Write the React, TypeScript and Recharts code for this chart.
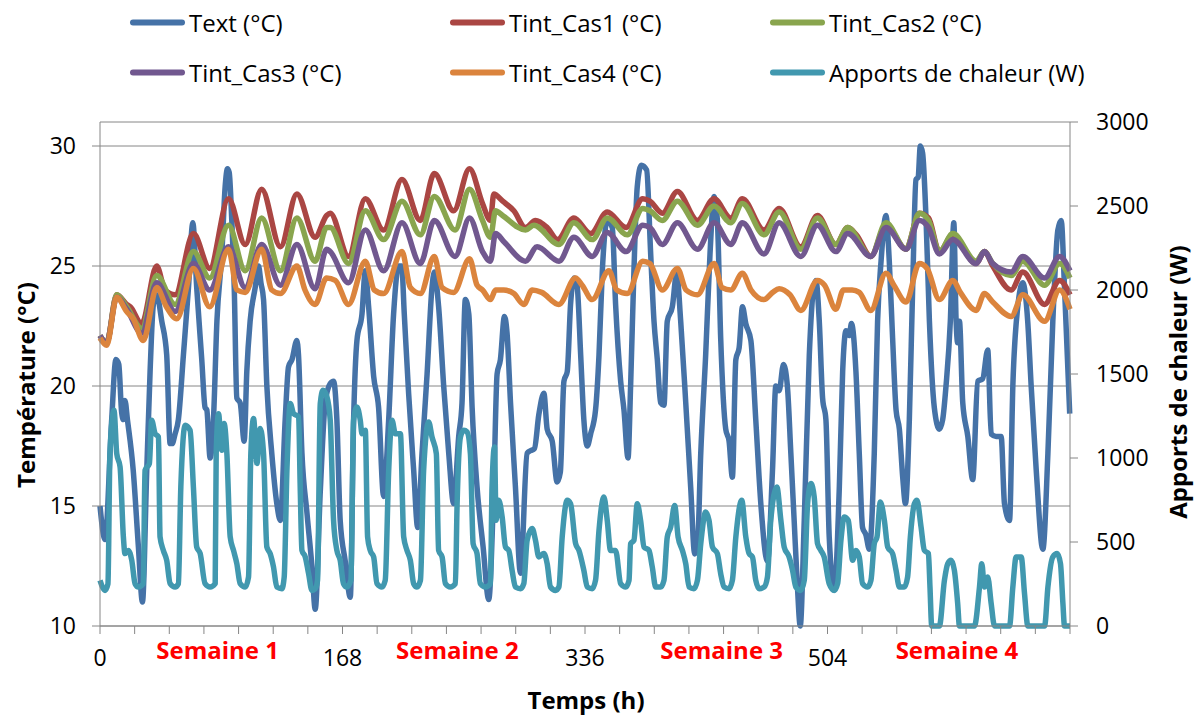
import { LineChart, Line, XAxis, YAxis, CartesianGrid, ReferenceDot } from "recharts";

type Pt = [number, number];

// axes
const hourTicks = [0, 24, 48, 72, 96, 120, 144, 168, 192, 216, 240, 264, 288, 312, 336, 360, 384, 408, 432, 456, 480, 504, 528, 552, 576, 600, 624, 648, 672];
const hourLabels = [0, 168, 336, 504];
const tempTicks = [10, 15, 20, 25, 30];
const powerTicks = [0, 500, 1000, 1500, 2000, 2500, 3000];
const weekNames = ["Semaine 1", "Semaine 2", "Semaine 3", "Semaine 4"];
const weekCenters = [81.5, 247.6, 430.7, 593.7];

// [hour, °C]
const text: Pt[] = [
  [0, 15.0], [3.5, 13.6], [8, 18.5], [11, 21.1], [13, 20.9], [15, 18.9], [16.2, 18.6], [17.3, 19.4], [19, 18.6], [23, 16.5],
  [26.6, 13.3], [29.4, 11.0], [32.4, 16.5], [34.7, 20.6], [37, 23.4], [39.3, 23.8], [42.8, 22.7], [46.2, 21.3], [48.6, 17.6], [50, 17.6],
  [52, 18.0], [54.3, 18.6], [57.8, 21.3], [61.3, 24.1], [64.3, 26.8], [67, 24.1], [70.5, 21.1], [72.8, 19.1], [74, 19.0], [76.3, 17.0],
  [78.6, 18.6], [81, 22.7], [84.4, 25.5], [86.7, 28.3], [88.3, 29.05], [89.5, 28.9], [91.3, 26.9], [93, 24.1], [94.8, 19.5], [97.1, 19.3],
  [99.9, 17.7], [101.7, 20.6], [104, 22.7], [107.5, 24.1], [109.8, 25.0], [111.5, 24.3], [113.3, 23.6], [115.6, 20.0], [119, 17.2], [122.5, 15.1],
  [124.9, 14.4], [128.3, 18.6], [130.6, 20.8], [133, 21.1], [136.4, 21.9], [137.5, 21.3], [139.9, 17.2], [143.4, 14.7], [146.8, 12.5], [149.1, 10.7],
  [152.6, 15.6], [156, 19.3], [159.5, 20.1], [161.8, 20.2], [164.1, 18.6], [166.4, 14.4], [169.9, 12.7], [173.4, 11.2], [175.7, 18.6], [178, 21.9],
  [181.5, 23.0], [183.8, 24.8], [186.1, 23.3], [189.6, 20.4], [193, 19.1], [196.5, 15.4], [200, 18.6], [203.4, 23.0], [206.9, 25.0], [209, 25.0],
  [210.8, 23.0], [213.8, 19.7], [217.3, 16.5], [220.1, 14.1], [223.1, 17.2], [226.6, 20.5], [230, 24.1], [231.6, 24.75], [234.6, 23.3], [238.1, 20.0],
  [241.6, 17.2], [245, 15.1], [248.5, 17.9], [250.8, 19.3], [253.1, 23.6], [255.5, 23.0], [257.8, 19.1], [261.2, 15.8], [265.4, 13.3], [269.3, 11.1],
  [272.8, 15.8], [275.1, 20.5], [277.4, 21.1], [280.2, 22.9], [282, 22.2], [284.4, 19.3], [287.8, 15.8], [291.3, 12.2], [295.9, 17.2], [298.2, 17.3],
  [301, 17.4], [304, 18.8], [307.5, 19.7], [309.8, 18.2], [313.3, 17.7], [316.7, 16.0], [318.9, 16.4], [321.4, 20.2], [323.7, 20.6], [326, 23.4],
  [328.5, 24.5], [330.5, 24.2], [333, 21.3], [335.2, 18.6], [337.6, 17.5], [339.9, 18.0], [343.3, 19.0], [345.7, 21.3], [348, 24.8], [351.4, 26.9],
  [354.9, 26.6], [357.2, 23.4], [360.7, 20.2], [363, 19.0], [365.8, 17.0], [367.6, 20.0], [369.9, 24.8], [372.2, 28.3], [375, 29.2], [378.7, 29.0],
  [381.5, 25.5], [383.8, 22.7], [386.1, 21.1], [388.4, 19.3], [390.7, 19.2], [393, 22.7], [396.5, 23.3], [399.5, 24.7], [402.3, 22.7], [405.8, 19.3],
  [409.2, 15.8], [412, 13.0], [413.9, 13.3], [416.2, 17.2], [419.6, 21.3], [422.6, 25.5], [425.4, 27.9], [427.7, 26.9], [430, 22.0], [433.5, 18.2],
  [435.8, 17.7], [438.1, 16.2], [440.5, 21.1], [442.8, 21.6], [445.1, 23.3], [447.4, 22.6], [450.9, 21.9], [454.3, 18.6], [457.8, 15.1], [462.4, 12.7],
  [465.9, 16.5], [468.2, 20.0], [470.5, 19.8], [473.5, 20.9], [476.2, 20.0], [478.6, 17.2], [480.9, 14.4], [483.2, 11.6], [485.1, 10.0], [487.9, 14.4],
  [491.4, 21.3], [494.4, 24.1], [496, 24.4], [498.3, 22.7], [500.6, 19.5], [502.9, 18.6], [505.2, 13.7], [508.7, 11.5], [512.2, 15.8], [514.5, 20.6],
  [516.8, 22.3], [519, 22.1], [520.6, 22.6], [523.7, 20.6], [526, 17.2], [528.3, 14.1], [530.6, 13.8], [533, 13.2], [536.4, 17.2], [538.7, 22.7],
  [541.1, 25.2], [544.5, 27.1], [546.8, 25.2], [549.1, 22.0], [551.5, 19.0], [553.8, 18.2], [556.1, 16.2], [558, 15.1], [560.7, 18.6], [563, 24.1],
  [565.3, 28.6], [566.8, 28.7], [568.3, 30.0], [569.9, 29.7], [572.3, 26.9], [574.6, 22.7], [578, 19.1], [581.5, 18.2], [583.8, 18.6], [586.1, 20.0],
  [589.1, 22.7], [591.5, 26.8], [593.1, 22.7], [594.2, 21.8], [595.4, 22.7], [597.7, 19.3], [601.2, 17.9], [604.6, 16.1], [608.1, 20.2], [611.5, 20.3],
  [615, 21.5], [617.4, 18.0], [620.8, 17.9], [624.3, 17.9], [626.6, 15.1], [630.1, 14.4], [632.4, 20.0], [635.8, 23.3], [639.3, 24.3], [642.7, 22.7],
  [645.1, 20.0], [648.6, 16.5], [653.2, 13.2], [656.7, 17.2], [660.1, 22.7], [663.6, 26.5], [665.9, 26.9], [668.2, 24.1], [671.8, 18.85],
];

const cas1: Pt[] = [
  [0, 22.1], [4.6, 21.8], [11.6, 23.8], [18.5, 23.4], [21, 23.3], [28.9, 22.6], [39.3, 25.0], [45, 24.0], [52, 23.8], [64.7, 26.35],
  [76, 24.9], [89, 27.8], [100.6, 25.9], [112, 28.2], [125, 25.8], [136.4, 28.0], [149, 26.2], [157, 27.1], [159.5, 27.2], [172.2, 25.4],
  [183.8, 27.8], [196.5, 26.5], [209.2, 28.6], [221.9, 26.9], [231.6, 28.85], [245, 27.3], [256, 29.05], [265, 27.6], [270.5, 26.9], [272.8, 28.0],
  [279, 27.7], [286.7, 27.3], [294.8, 26.6], [301.7, 26.9], [309.8, 26.6], [317, 26.1], [328.3, 27.0], [340, 26.35], [351.4, 27.25], [364.5, 26.6], [376, 27.8],
  [381, 27.7], [389.6, 27.2], [400, 28.1], [413.9, 26.9], [425.4, 27.8], [437, 27.0], [445, 27.8], [460, 26.5], [470.5, 27.4], [485.5, 25.8],
  [497, 27.1], [509.8, 25.9], [518, 26.6], [524, 26.3], [534, 25.4], [544.5, 26.7], [558.4, 25.7], [567.6, 27.2], [574, 27.0], [581.5, 25.6],
  [590.8, 26.3], [607, 25.1], [612.7, 25.6], [618.5, 25.0], [631.2, 24.0], [639.3, 24.75], [654.4, 23.4], [664.8, 24.4], [672, 23.8],
];

const cas2: Pt[] = [
  [0, 22.1], [4.6, 21.8], [11.6, 23.8], [18.5, 23.3], [28.9, 22.4], [39.3, 24.6], [52, 23.4], [64.7, 25.6], [76, 24.5], [89, 26.7],
  [100.6, 24.8], [112, 27.0], [125, 24.8], [136.4, 27.0], [149, 25.2], [157, 26.6], [159.5, 26.6], [172.2, 25.1], [183.8, 27.3], [196.5, 26.1],
  [209.2, 27.7], [221.9, 26.3], [231.6, 27.9], [246, 26.5], [256, 28.2], [265, 26.9], [270.5, 26.2], [274, 27.3], [279, 27.1], [294.8, 26.5],
  [300.5, 26.7], [317.9, 25.9], [328.3, 26.8], [341, 26.1], [351.4, 27.0], [365.3, 26.3], [376, 27.4], [381, 27.3], [389.6, 26.9], [400, 27.7],
  [413.9, 26.7], [425.4, 27.5], [437, 26.8], [445, 27.6], [460, 26.3], [470.5, 27.25], [485.5, 25.7], [497, 27.0], [509.8, 25.9], [518, 26.6],
  [534, 25.4], [544.5, 26.8], [558.4, 25.7], [567.6, 27.2], [574, 26.9], [581.5, 25.6], [590.8, 26.35], [607, 25.2], [612.7, 25.6], [618.5, 25.1],
  [631.2, 24.6], [639.3, 25.2], [654.4, 24.2], [664.8, 25.1], [672, 24.5],
];

const cas3: Pt[] = [
  [0, 22.1], [4.6, 21.8], [11.6, 23.7], [18.5, 23.2], [28.9, 22.2], [39.3, 24.3], [52, 23.1], [64.7, 25.1], [76, 24.0], [89, 25.8],
  [100.6, 24.1], [112, 25.9], [125, 24.2], [136.4, 25.9], [149, 24.05], [157, 25.7], [159.5, 25.6], [172.2, 24.3], [183.8, 26.5], [196.5, 24.8],
  [209.2, 26.8], [221.9, 25.1], [231.6, 26.9], [246, 25.4], [256, 27.0], [265, 25.6], [270.5, 25.2], [274, 26.35], [280, 26.0], [294.8, 25.2],
  [302.8, 25.8], [318, 25.2], [328.3, 26.2], [341, 25.4], [351.4, 26.4], [364.5, 25.6], [376, 26.7], [381, 26.6], [389.6, 25.9], [400, 26.8],
  [413.9, 25.7], [425.4, 26.8], [437, 25.9], [445, 26.8], [460, 25.5], [470.5, 26.8], [485.5, 25.4], [497, 26.7], [509.8, 25.6], [518, 26.35],
  [534, 25.4], [544.5, 26.6], [558.4, 25.7], [567.6, 26.9], [574, 26.6], [581.5, 25.5], [590.8, 26.1], [607, 25.1], [612.7, 25.6], [618.5, 25.1],
  [631.2, 24.75], [639.3, 25.4], [654.4, 24.5], [664.8, 25.4], [672, 24.8],
];

const cas4: Pt[] = [
  [0, 22.0], [4.6, 21.7], [11.6, 23.7], [18.5, 23.1], [23, 22.8], [30, 21.9], [39.3, 24.1], [46, 23.3], [53.2, 22.8], [64.7, 24.9],
  [76, 23.3], [89, 25.7], [95, 24.0], [100.6, 23.9], [112, 25.7], [119, 24.0], [125, 23.85], [136.4, 25.0], [142, 24.0], [149, 23.4],
  [157, 24.5], [163, 24.4], [172.2, 23.4], [183.8, 25.2], [190, 24.0], [196.5, 23.85], [209.2, 25.6], [215, 24.1], [221.9, 23.85], [231.6, 25.4],
  [237, 24.1], [245, 23.9], [256, 25.3], [261.2, 24.2], [265, 24.0], [270.5, 23.6], [274, 24.0], [279.7, 24.0], [286.7, 23.85], [293.6, 23.4],
  [299.4, 24.0], [306, 23.9], [317.9, 23.4], [329.4, 24.5], [334, 24.2], [341, 23.6], [352.6, 24.8], [358, 24.0], [365.3, 23.85], [376, 25.2],
  [381, 25.1], [389.6, 24.0], [400, 24.9], [406, 24.0], [413.9, 23.8], [425.4, 25.1], [431, 24.1], [437, 24.0], [445, 24.7], [451, 24.0],
  [460, 23.6], [466, 23.9], [470.5, 24.05], [478, 23.8], [485.5, 23.15], [497, 24.4], [502, 24.2], [509.8, 23.2], [515, 24.0], [521, 24.0],
  [526, 23.9], [534, 23.15], [544.5, 24.7], [550, 24.2], [558.4, 23.5], [567.6, 25.1], [573, 24.9], [581.5, 23.6], [590.8, 24.4], [596, 23.9],
  [607, 23.15], [612.7, 23.85], [618.5, 23.5], [631.2, 22.9], [639.3, 23.8], [654.4, 22.7], [664.8, 24.0], [672, 23.2],
];

// [hour, W]
const apports: Pt[] = [
  [0, 272], [3.5, 212], [5.5, 250], [6.9, 1026], [9.7, 1284], [11.6, 1026], [13.9, 947], [16.2, 530], [17.3, 431], [19.6, 450],
  [22, 391], [24.3, 252], [26.6, 232], [30, 252], [31.2, 927], [34.2, 967], [35.8, 1225], [38.2, 1145], [40.5, 1125], [41.6, 530],
  [43.9, 450], [46.2, 391], [48.6, 252], [52, 232], [54.3, 252], [56, 828], [59, 1195], [62.4, 1165], [64.7, 828], [67, 470],
  [69.4, 431], [72.8, 252], [76.3, 232], [79.8, 252], [80.5, 1026], [82.1, 1264], [84.4, 1046], [86, 1205], [87.9, 1026], [90.2, 530],
  [92.5, 450], [94.8, 371], [97.1, 252], [100.6, 232], [102.9, 292], [104.5, 1026], [106.4, 1235], [108.7, 967], [111, 1175], [113.3, 1026],
  [115.6, 470], [117.9, 431], [120.2, 351], [122.5, 232], [126, 222], [127.6, 290], [129.5, 927], [131.8, 1324], [134.1, 1264], [137.6, 1245],
  [138.7, 828], [139.9, 450], [142.2, 411], [144.5, 312], [146.8, 212], [149.1, 222], [150.7, 272], [152.6, 1324], [154.5, 1403], [157.2, 1364],
  [159.5, 1225], [161.8, 629], [164.1, 450], [166.4, 391], [168.7, 252], [171, 232], [173.8, 272], [175.7, 1225], [178, 1304], [180.3, 1225],
  [181.5, 1145], [183.8, 1165], [185.4, 530], [187.2, 450], [189.6, 411], [191.9, 252], [195.3, 232], [197.6, 272], [200, 927], [202.3, 1225],
  [204.6, 1145], [208.1, 1145], [210.4, 530], [212.7, 450], [215, 391], [217.3, 252], [219.6, 232], [222, 272], [224.2, 927], [227.7, 1215],
  [230, 1125], [233, 1026], [234.6, 450], [237, 411], [239.3, 252], [242.7, 232], [246.2, 252], [247.4, 728], [249.7, 1125], [252, 1165],
  [254.3, 1155], [256.6, 1026], [258.5, 490], [261.2, 431], [263.5, 252], [267, 232], [270.5, 252], [271.6, 828], [273.3, 1066], [274.4, 629],
  [276.3, 748], [278.6, 649], [280.9, 470], [283.2, 450], [285.5, 331], [287.8, 232], [291.3, 222], [293.6, 252], [295.9, 510], [299.4, 580],
  [301.7, 510], [304, 411], [307.5, 431], [309.8, 371], [312.1, 232], [315.6, 212], [317.9, 232], [320.2, 530], [323.7, 748], [326, 728],
  [329.5, 490], [331.8, 450], [335.2, 331], [337.6, 232], [341, 222], [343.3, 272], [345.7, 570], [349.1, 768], [351.4, 629], [353.7, 450],
  [357.2, 450], [360.7, 252], [364.2, 232], [366.5, 272], [367.6, 490], [369.9, 510], [372.2, 728], [374.5, 629], [376.9, 470], [380.3, 450],
  [382.6, 351], [385, 232], [388.4, 232], [390.7, 272], [393, 530], [395.4, 590], [398.1, 718], [400.5, 530], [403.5, 450], [405.8, 371],
  [408.1, 232], [411.5, 222], [413.9, 272], [416.2, 490], [419.6, 679], [421.9, 629], [424.3, 470], [427.7, 431], [430, 312], [432.4, 232],
  [435.8, 222], [438.1, 272], [440.5, 530], [444.6, 748], [447.4, 530], [449.7, 431], [452, 411], [454.3, 272], [456.6, 222], [460.1, 232],
  [462.4, 292], [464.7, 629], [468.9, 828], [471.7, 629], [474, 470], [477.4, 411], [479.8, 331], [482.1, 232], [485.5, 212], [487.9, 272],
  [490.2, 728], [492.5, 848], [494.8, 768], [497.1, 490], [499.4, 450], [501.7, 411], [505.2, 252], [508.7, 212], [511, 252], [513.3, 510],
  [515.6, 649], [518.4, 629], [521.4, 391], [523.7, 450], [526, 411], [528.3, 252], [531.8, 232], [534.1, 272], [536.4, 490], [538.3, 530],
  [540.6, 738], [543.4, 629], [545.7, 470], [549.1, 431], [551.5, 331], [553.8, 232], [557.2, 232], [559.5, 292], [561.4, 530], [564.2, 728],
  [566, 748], [568.8, 590], [571.1, 450], [573.9, 431], [575, 232], [576.2, 0], [581.5, 0], [585, 272], [587.3, 371], [589.6, 391],
  [591.9, 331], [594.2, 133], [595.4, 0], [605.8, 0], [609.3, 232], [610.9, 371], [612.7, 232], [615, 292], [617.4, 133], [619.7, 0],
  [630.1, 0], [632.4, 232], [634.7, 411], [638.2, 411], [640.5, 192], [642.8, 0], [654.4, 0], [656.7, 232], [660.1, 411], [663.1, 431],
  [665.4, 371], [667.1, 133], [668.2, 0], [672, 0],
];

const series = [
  { name: "Text (°C)", color: "#4572A7", pts: text, axis: "temp" },
  { name: "Tint_Cas1 (°C)", color: "#AA4643", pts: cas1, axis: "temp" },
  { name: "Tint_Cas2 (°C)", color: "#89A54E", pts: cas2, axis: "temp" },
  { name: "Tint_Cas3 (°C)", color: "#71588F", pts: cas3, axis: "temp" },
  { name: "Tint_Cas4 (°C)", color: "#DB843D", pts: cas4, axis: "temp" },
  { name: "Apports de chaleur (W)", color: "#4198AF", pts: apports, axis: "power" },
];

const toRows = (pts: Pt[]) => pts.map(([h, v]) => ({ h, v }));

const GRID = "#868686";
const FONT = "'Open Sans', sans-serif";

function ChartLegend() {
  return (
    <>
      {series.map((s, i) => (
        <div
          key={s.name}
          style={{
            position: "absolute",
            left: 130 + (i % 3) * 320,
            top: 22 + Math.floor(i / 3) * 50,
            transform: "translateY(-50%)",
            display: "flex",
            alignItems: "center",
            whiteSpace: "nowrap",
            fontSize: 24,
          }}
        >
          <span style={{ display: "inline-block", width: 55, height: 6, background: s.color, borderRadius: 3 }} />
          <span style={{ marginLeft: 4 }}>{s.name}</span>
        </div>
      ))}
    </>
  );
}

export default function App() {
  return (
    <div style={{ position: "absolute", left: 0, top: 0, width: 1194, height: 718, background: "#fff", fontFamily: FONT, color: "#000" }}>
      <ChartLegend />
      <LineChart width={1194} height={718} margin={{ top: 122, right: 0, bottom: 0, left: 0 }}>
        <CartesianGrid vertical={false} yAxisId="temp" stroke={GRID} strokeWidth={1} />
        <XAxis
          dataKey="h" type="number" domain={[0, 672]} ticks={hourTicks} interval={0}
          height={92} stroke={GRID} tickSize={8} tickMargin={16}
          tick={{ fontSize: 23, fill: "#000" }}
          tickFormatter={(v: number) => (hourLabels.includes(v) ? String(v) : "")}
        />
        <YAxis
          yAxisId="temp" domain={[10, 31]} ticks={tempTicks} width={100}
          stroke={GRID} tickSize={8} tickMargin={16} tick={{ fontSize: 23, fill: "#000" }}
        />
        <YAxis
          yAxisId="power" orientation="right" domain={[0, 3000]} ticks={powerTicks} width={124}
          stroke={GRID} tickSize={8} tickMargin={18} tick={{ fontSize: 23, fill: "#000" }}
        />
        {series.map((s) => (
          <Line
            key={s.name}
            data={toRows(s.pts)}
            dataKey="v"
            name={s.name}
            yAxisId={s.axis}
            type="monotone"
            stroke={s.color}
            strokeWidth={5.5}
            strokeLinejoin="round"
            dot={false}
            activeDot={false}
            isAnimationActive={false}
          />
        ))}
        {weekNames.map((w, i) => (
          <ReferenceDot
            key={w}
            x={weekCenters[i]}
            y={10}
            yAxisId="temp"
            r={0}
            fill="none"
            stroke="none"
            ifOverflow="visible"
            label={{ value: w, position: "bottom", offset: 16, fill: "#FF0000", fontSize: 24, fontWeight: 700 }}
          />
        ))}
      </LineChart>
      <div
        style={{
          position: "absolute", left: 25, top: 385, transform: "translate(-50%, -50%) rotate(-90deg)",
          whiteSpace: "nowrap", fontSize: 24, fontWeight: 700,
        }}
      >
        Température (°C)
      </div>
      <div
        style={{
          position: "absolute", left: 1177, top: 382, transform: "translate(-50%, -50%) rotate(-90deg)",
          whiteSpace: "nowrap", fontSize: 24, fontWeight: 700,
        }}
      >
        Apports de chaleur (W)
      </div>
      <div
        style={{
          position: "absolute", left: 586, top: 699, transform: "translate(-50%, -50%)",
          whiteSpace: "nowrap", fontSize: 24, fontWeight: 700,
        }}
      >
        Temps (h)
      </div>
    </div>
  );
}
